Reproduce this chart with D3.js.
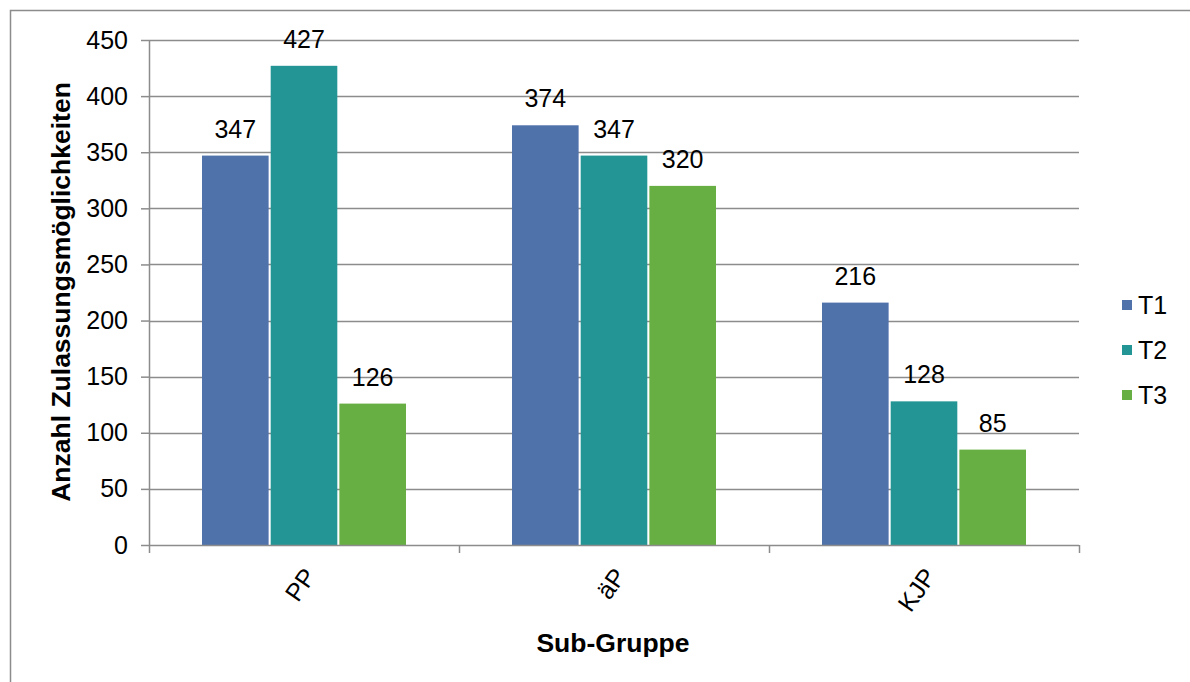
<!DOCTYPE html>
<html>
<head>
<meta charset="utf-8">
<script src="https://cdn.jsdelivr.net/npm/d3@7"></script>
<style>
  html, body { margin: 0; padding: 0; background: #fff; }
  svg { display: block; font-family: "Liberation Sans", Arial, sans-serif; }
</style>
</head>
<body>
<svg id="chart" width="1190" height="682"></svg>
<script>
// Categories, series and axis ticks
const categories = ["PP", "äP", "KJP"];
const seriesNames = ["T1", "T2", "T3"];
const t1 = [347, 374, 216];
const t2 = [427, 347, 128];
const t3 = [126, 320, 85];
const yTicks = [0, 50, 100, 150, 200, 250, 300, 350, 400, 450];
const colors = ["#5072AB", "#239595", "#67AF42"];

const seriesValues = [t1, t2, t3];
const rows = categories.map((c, i) => ({
  cat: c,
  vals: seriesNames.map((s, j) => ({ key: s, value: seriesValues[j][i] }))
}));

const FS = 25;
const svg = d3.select("#chart");
const plot = { left: 149, right: 1079, top: 40, bottom: 545 };

// Outer chart frame
svg.append("rect")
  .attr("x", 10.5).attr("y", 10.5)
  .attr("width", 1200).attr("height", 700)
  .attr("fill", "none").attr("stroke", "#8c8c8c").attr("stroke-width", 1.5);

const x = d3.scaleBand().domain(categories).range([plot.left, plot.right]).paddingInner(0).paddingOuter(0);
const x1 = d3.scaleBand().domain(seriesNames).range([53, 257]).paddingInner(0.03);
const y = d3.scaleLinear().domain([0, 450]).range([plot.bottom, plot.top]);

// Horizontal gridlines
svg.append("g").selectAll("line").data(yTicks.filter(d => d > 0)).join("line")
  .attr("x1", plot.left).attr("x2", plot.right)
  .attr("y1", d => Math.round(y(d)) + 0.5).attr("y2", d => Math.round(y(d)) + 0.5)
  .attr("stroke", "#8c8c8c").attr("stroke-width", 1.3);

// Y axis
const yAxis = svg.append("g").attr("transform", `translate(${plot.left},0)`)
  .call(d3.axisLeft(y).tickValues(yTicks).tickSize(8).tickPadding(13).tickFormat(d3.format("d")));
yAxis.select(".domain").attr("stroke", "#8c8c8c").attr("stroke-width", 1.5).attr("d", `M0.5,${plot.top}V${plot.bottom}`);
yAxis.selectAll(".tick line").attr("stroke", "#8c8c8c").attr("stroke-width", 1.5);
yAxis.selectAll(".tick text").attr("font-size", FS).attr("fill", "#000")
  .attr("font-family", "Liberation Sans, Arial, sans-serif");

// Bars
const groups = svg.append("g").selectAll("g").data(rows).join("g")
  .attr("transform", d => `translate(${x(d.cat)},0)`);
groups.selectAll("rect").data(d => d.vals).join("rect")
  .attr("x", d => x1(d.key))
  .attr("width", x1.bandwidth())
  .attr("y", d => y(d.value))
  .attr("height", d => y(0) - y(d.value))
  .attr("fill", (d, i) => colors[i]);

// Value labels
groups.selectAll("text").data(d => d.vals).join("text")
  .attr("x", d => x1(d.key) + x1.bandwidth() / 2)
  .attr("y", d => y(d.value) - 18)
  .attr("text-anchor", "middle")
  .attr("font-size", FS).attr("fill", "#000")
  .text(d => d.value);

// X axis with category boundary ticks
const xg = svg.append("g").attr("transform", `translate(0,${plot.bottom})`);
xg.append("line").attr("x1", plot.left).attr("x2", plot.right).attr("y1", 0.5).attr("y2", 0.5)
  .attr("stroke", "#8c8c8c").attr("stroke-width", 1.5);
const bounds = categories.map(c => x(c)).concat([plot.right]);
xg.selectAll("line.tk").data(bounds).join("line").attr("class", "tk")
  .attr("x1", d => d + 0.5).attr("x2", d => d + 0.5).attr("y1", 0).attr("y2", 8)
  .attr("stroke", "#8c8c8c").attr("stroke-width", 1.5);
xg.selectAll("text").data(categories).join("text")
  .attr("transform", d => `translate(${x(d) + x.bandwidth() / 2 + 6},${26}) rotate(-55)`)
  .attr("text-anchor", "end")
  .attr("font-size", FS).attr("fill", "#000")
  .attr("dy", "0.35em")
  .text(d => d);

// Axis titles
svg.append("text")
  .attr("x", 613).attr("y", 652)
  .attr("text-anchor", "middle")
  .attr("font-size", 26.5).attr("font-weight", "bold")
  .text("Sub-Gruppe");
svg.append("text")
  .attr("transform", "translate(70,292) rotate(-90)")
  .attr("text-anchor", "middle")
  .attr("font-size", 26.5).attr("font-weight", "bold")
  .text("Anzahl Zulassungsmöglichkeiten");

// Legend
const legend = svg.append("g").attr("transform", "translate(1122,0)");
const legendY = [305, 350, 395];
seriesNames.forEach((s, i) => {
  legend.append("rect").attr("x", 0).attr("y", legendY[i] - 5).attr("width", 10).attr("height", 10).attr("fill", colors[i]);
  legend.append("text").attr("x", 16).attr("y", legendY[i]).attr("dy", "0.35em")
    .attr("font-size", FS).attr("fill", "#000").text(s);
});
</script>
</body>
</html>
